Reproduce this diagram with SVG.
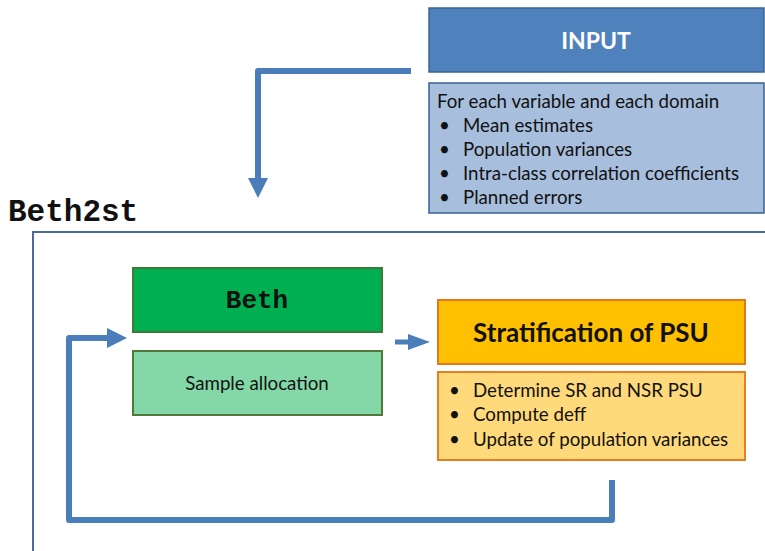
<svg xmlns="http://www.w3.org/2000/svg" width="765" height="551" viewBox="0 0 765 551">
<defs>
<style>
.t{font-family:Lato,"Open Sans","Liberation Sans",sans-serif;font-size:18.7px;fill:#111}
.mono{font-family:"Liberation Mono","Courier New",monospace;font-weight:bold;fill:#111}
.conn{fill:none;stroke:#4a7ebb;stroke-width:6;stroke-linejoin:round}
</style>
<marker id="ah" markerUnits="userSpaceOnUse" markerWidth="22" markerHeight="22" refX="0" refY="10" orient="auto" overflow="visible">
<path d="M0,0 L20,10 L0,20 Z" fill="#4a7ebb"/>
</marker>
<marker id="ahs" markerUnits="userSpaceOnUse" markerWidth="24" markerHeight="18" refX="0" refY="8" orient="auto" overflow="visible">
<path d="M0,0 L22,8 L0,16 Z" fill="#4a7ebb"/>
</marker>
</defs>
<rect width="765" height="551" fill="#fff"/>

<g id="container">
<rect x="33" y="232" width="740" height="330" fill="none" stroke="#4a6a9a" stroke-width="2"/>
<text class="mono" x="8" y="221" font-size="31">Beth2st</text>
</g>

<g id="input">
<rect x="429" y="8" width="335" height="64" fill="#4f81bd" stroke="#3a6596" stroke-width="1.5"/>
<text x="596" y="49" text-anchor="middle" font-family="Lato,'Open Sans','Liberation Sans',sans-serif" font-weight="bold" font-size="23" fill="#fff">INPUT</text>
</g>

<g id="input-detail">
<rect x="429" y="83" width="335" height="130" fill="#a7bedd" stroke="#3a5f8f" stroke-width="1.5"/>
<text class="t" x="437" y="108">For each variable and each domain</text>
<text class="t" x="439" y="132">•</text><text class="t" x="463" y="132">Mean estimates</text>
<text class="t" x="439" y="156">•</text><text class="t" x="463" y="156">Population variances</text>
<text class="t" x="439" y="180">•</text><text class="t" x="463" y="180">Intra-class correlation coefficients</text>
<text class="t" x="439" y="204">•</text><text class="t" x="463" y="204">Planned errors</text>
</g>

<g id="beth">
<rect x="133" y="268" width="249" height="64" fill="#00b050" stroke="#3f7a3a" stroke-width="2"/>
<text class="mono" x="257" y="308" font-size="26" text-anchor="middle">Beth</text>
</g>

<g id="sample-allocation">
<rect x="133" y="351" width="249" height="64" fill="#84d8a8" stroke="#4f7a3a" stroke-width="2"/>
<text class="t" x="257" y="390" text-anchor="middle">Sample allocation</text>
</g>

<g id="stratification">
<rect x="438" y="300" width="307" height="64" fill="#ffc000" stroke="#e07a20" stroke-width="2"/>
<text x="591" y="342" text-anchor="middle" font-family="Lato,'Open Sans','Liberation Sans',sans-serif" font-weight="bold" font-size="26" fill="#111">Stratification of PSU</text>
</g>

<g id="stratification-detail">
<rect x="438" y="372" width="307" height="88" fill="#ffd97a" stroke="#e67e22" stroke-width="2"/>
<text class="t" x="449" y="397">•</text><text class="t" x="473" y="397">Determine SR and NSR PSU</text>
<text class="t" x="449" y="421">•</text><text class="t" x="473" y="421">Compute deff</text>
<text class="t" x="449" y="446">•</text><text class="t" x="473" y="446">Update of population variances</text>
</g>

<g id="connectors">
<path class="conn" d="M411,71 L258,71 L258,178" marker-end="url(#ah)"/>
<path class="conn" style="stroke-width:5" d="M395,342 L408,342" marker-end="url(#ahs)"/>
<path class="conn" d="M612,480 L612,520 L69,520 L69,338 L107,338" marker-end="url(#ah)"/>
</g>
</svg>
